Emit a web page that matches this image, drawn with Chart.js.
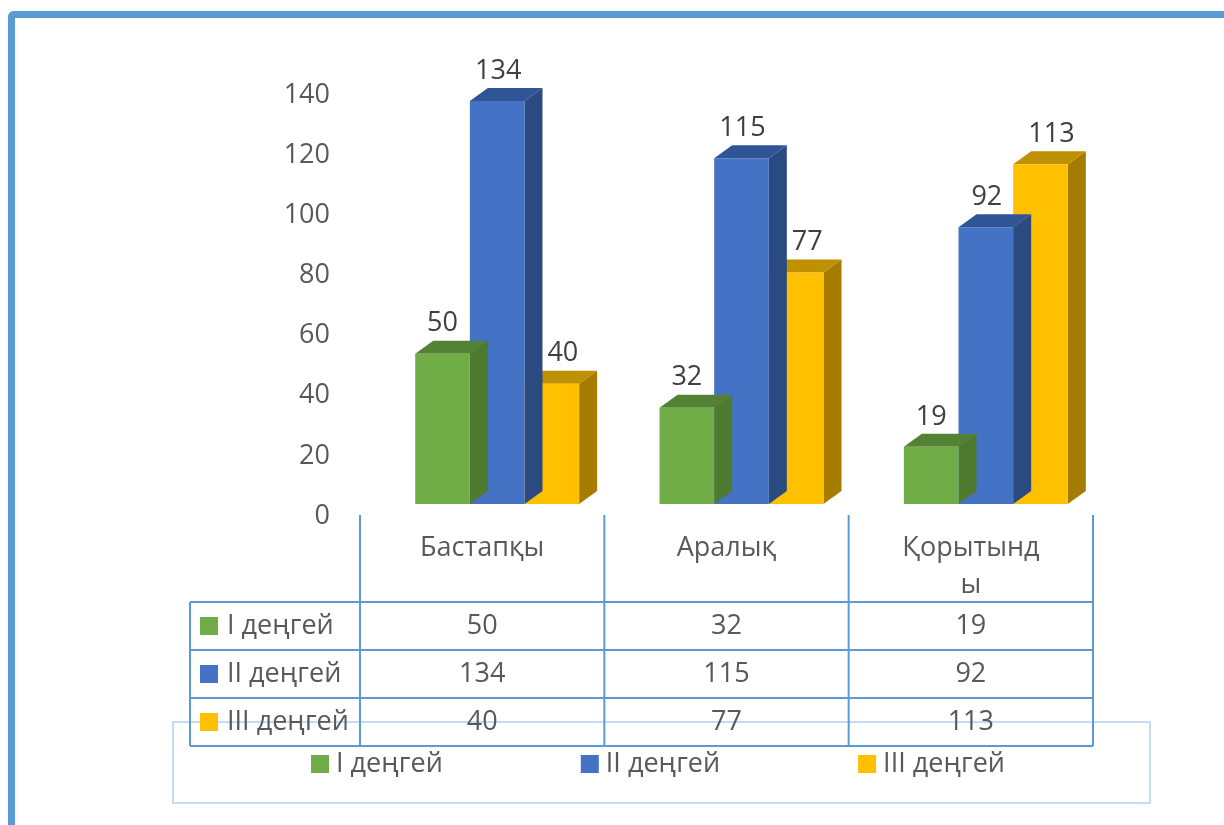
<!DOCTYPE html>
<html>
<head>
<meta charset="utf-8">
<script src="https://cdn.jsdelivr.net/npm/chart.js@4/dist/chart.umd.min.js"></script>
<style>
  html, body { margin: 0; padding: 0; background: #fff; overflow: hidden; }
  #wrap { position: relative; width: 1224px; height: 825px; }
  #frame {
    position: absolute; left: 8px; top: 11px; width: 1400px; height: 1000px;
    border-left: 7px solid #5B9BD5; border-top: 7px solid #5B9BD5;
    border-top-left-radius: 6px; box-sizing: border-box;
  }
  canvas { position: absolute; left: 0; top: 0; }
</style>
</head>
<body>
<div id="wrap">
  <div id="frame"></div>
  <canvas id="grafico" width="1224" height="825"></canvas>
</div>
<script>
const categorias = ['Бастапқы', 'Аралық', ['Қорытынд', 'ы']];
const series = ['I деңгей', 'II деңгей', 'III деңгей'];
const nivel1 = [50, 32, 19];
const nivel2 = [134, 115, 92];
const nivel3 = [40, 77, 113];
const eixoMin = 0, eixoMax = 140, eixoPasso = 20;

const cores = ['#70AD47', '#4472C4', '#FFC000'];
const coresTopo = ['#548235', '#2F5597', '#BF9000'];
const coresLado = ['#4E7A30', '#2B4A80', '#A67C00'];
const rotuloDx = [0, 1, 11];

const FONTE = '"Open Sans", "Noto Sans", sans-serif';
const TAM = 27;
const LINHA = '#5B9BD5';
const desloc = {x: 15, y: -12};   // front face offset (3d look)
const prof = {x: 18, y: -13};     // depth of the boxes

// side + top faces, then chart.js paints the front face on top
const barras3d = {
    id: 'barras3d',
    beforeDatasetDraw(chart, args){
        const ctx = chart.ctx;
        const i = args.index;
        ctx.save();
        ctx.translate(desloc.x, desloc.y);
        args.meta.data.forEach(el => {
            const {x, y, base, width} = el.getProps(['x', 'y', 'base', 'width'], true);
            const l = x - width / 2, r = x + width / 2;
            ctx.fillStyle = coresLado[i];
            ctx.beginPath();
            ctx.moveTo(r, y); ctx.lineTo(r + prof.x, y + prof.y);
            ctx.lineTo(r + prof.x, base + prof.y); ctx.lineTo(r, base);
            ctx.closePath(); ctx.fill();
            ctx.fillStyle = coresTopo[i];
            ctx.beginPath();
            ctx.moveTo(l, y); ctx.lineTo(r, y);
            ctx.lineTo(r + prof.x, y + prof.y); ctx.lineTo(l + prof.x, y + prof.y);
            ctx.closePath(); ctx.fill();
        });
    },
    afterDatasetDraw(chart){
        chart.ctx.restore();
    },
    afterDatasetsDraw(chart){
        const ctx = chart.ctx;
        ctx.save();
        ctx.font = TAM + 'px ' + FONTE;
        ctx.fillStyle = '#404040';
        ctx.textAlign = 'center';
        ctx.textBaseline = 'middle';
        chart.data.datasets.forEach((ds, i) => {
            chart.getDatasetMeta(i).data.forEach((el, j) => {
                ctx.fillText(String(ds.data[j]), el.x + desloc.x + rotuloDx[i], el.y + desloc.y - 30);
            });
        });
        ctx.restore();
    }
};

// category labels, data table and legend under the plot
const tabela = {
    id: 'tabela',
    afterDraw(chart){
        const ctx = chart.ctx;
        const xs = chart.scales.x;
        const area = chart.chartArea;
        const n = categorias.length;
        const larg = (area.right - area.left) / n;
        const topo = 602, alt = 48, esq = 190;
        const fundo = topo + alt * series.length;

        ctx.save();
        // legend frame first so the table sits over it
        const leg = {l: 173, t: 722, r: 1150, b: 803};
        ctx.lineWidth = 2;
        ctx.strokeStyle = '#C5DBEF';
        ctx.strokeRect(leg.l, leg.t, leg.r - leg.l, leg.b - leg.t);

        ctx.strokeStyle = LINHA;
        ctx.beginPath();
        for(let k = 0; k <= n; k++){
            const x = area.left + k * larg;
            ctx.moveTo(x, area.bottom - 1); ctx.lineTo(x, fundo);
        }
        ctx.moveTo(esq, topo); ctx.lineTo(esq, fundo);
        for(let r = 0; r <= series.length; r++){
            ctx.moveTo(esq, topo + r * alt); ctx.lineTo(area.right, topo + r * alt);
        }
        ctx.stroke();

        ctx.font = TAM + 'px ' + FONTE;
        ctx.fillStyle = '#595959';
        ctx.textAlign = 'center';
        ctx.textBaseline = 'middle';
        categorias.forEach((c, j) => {
            const linhas = Array.isArray(c) ? c : [c];
            const cx = xs.getPixelForValue(j);
            linhas.forEach((t, k) => ctx.fillText(t, cx, 548 + k * 37));
        });

        chart.data.datasets.forEach((ds, i) => {
            const cy = topo + i * alt + alt / 2;
            ctx.fillStyle = cores[i];
            ctx.fillRect(esq + 10, cy - 9, 18, 18);
            ctx.fillStyle = '#595959';
            ctx.textAlign = 'left';
            ctx.fillText(ds.label, esq + 37, cy);
            ctx.textAlign = 'center';
            ds.data.forEach((v, j) => ctx.fillText(String(v), xs.getPixelForValue(j), cy));
        });

        // legend items
        const gap = 137;
        const itens = chart.data.datasets.map(ds => 26 + ctx.measureText(ds.label).width);
        const total = itens.reduce((s, w) => s + w, 0) + gap * (itens.length - 1);
        let x = (leg.l + leg.r) / 2 - total / 2 - 3;
        const ly = 764;
        chart.data.datasets.forEach((ds, i) => {
            ctx.fillStyle = cores[i];
            ctx.fillRect(x, ly - 9, 18, 18);
            ctx.fillStyle = '#595959';
            ctx.textAlign = 'left';
            ctx.fillText(ds.label, x + 25, ly);
            x += itens[i] + gap;
        });
        ctx.restore();
    }
};

const ctx = document.getElementById('grafico').getContext('2d');
const dados = [nivel1, nivel2, nivel3];
const grafico = new Chart(ctx, {
    type: 'bar',
    data: {
        labels: categorias,
        datasets: series.map((nome, i) => ({
            label: nome,
            data: dados[i],
            backgroundColor: cores[i],
            borderWidth: 0,
            categoryPercentage: 0.671,
            barPercentage: 1,
            clip: false
        }))
    },
    options: {
        responsive: false,
        animation: false,
        layout: {padding: {left: 0, right: 131, top: 95, bottom: 309}},
        plugins: {legend: {display: false}, tooltip: {enabled: false}},
        scales: {
            x: {display: false},
            y: {
                min: eixoMin,
                max: eixoMax,
                grid: {display: false, drawTicks: false},
                border: {display: false},
                afterFit: (scale) => { scale.width = 360; },
                ticks: {
                    stepSize: eixoPasso,
                    padding: 30,
                    color: '#595959',
                    font: {family: FONTE, size: TAM}
                }
            }
        }
    },
    plugins: [barras3d, tabela]
});
</script>
</body>
</html>
